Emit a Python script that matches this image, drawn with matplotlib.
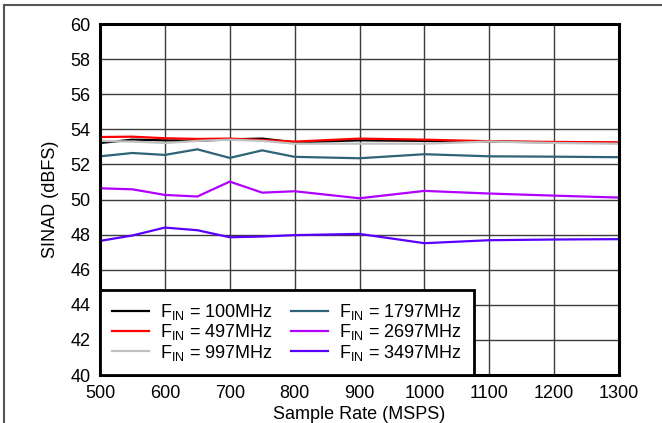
import matplotlib
matplotlib.use("Agg")
import matplotlib.pyplot as plt
from matplotlib.lines import Line2D

plt.rcParams['font.family'] = ['Liberation Sans', 'DejaVu Sans']

sample_rate = [500, 550, 600, 650, 700, 750, 800, 900, 1000, 1100, 1200, 1300]
f100 = [53.22, 53.41, 53.37, 53.34, 53.43, 53.47, 53.26, 53.37, 53.34, 53.30, 53.26, 53.22]
f497 = [53.56, 53.58, 53.49, 53.45, 53.47, 53.39, 53.30, 53.47, 53.41, 53.32, 53.28, 53.26]
f997 = [53.34, 53.30, 53.22, 53.34, 53.41, 53.34, 53.18, 53.18, 53.18, 53.30, 53.22, 53.18]
f1797 = [52.46, 52.65, 52.54, 52.86, 52.37, 52.80, 52.43, 52.35, 52.58, 52.46, 52.44, 52.41]
f2697 = [50.64, 50.58, 50.26, 50.17, 51.02, 50.39, 50.47, 50.07, 50.49, 50.34, 50.22, 50.11]
f3497 = [47.64, 47.95, 48.40, 48.25, 47.85, 47.89, 47.97, 48.04, 47.51, 47.68, 47.72, 47.74]

series = [
    ("100MHz", f100, "#000000"),
    ("497MHz", f497, "#ff0000"),
    ("997MHz", f997, "#c0c0c0"),
    ("1797MHz", f1797, "#2e6378"),
    ("2697MHz", f2697, "#b000ff"),
    ("3497MHz", f3497, "#5a00ff"),
]

xticks = [500, 600, 700, 800, 900, 1000, 1100, 1200, 1300]
yticks = list(range(40, 61, 2))

FS = 13

fig = plt.figure(figsize=(6.62, 4.23), dpi=100)
ax = fig.add_axes([100/662, 1 - 375/423, 519/662, 351/423])

order = [3, 4, 5, 0, 1, 2]
for i in order:
    name, vals, col = series[i]
    ax.plot(sample_rate, vals, color=col, lw=1.6, solid_joinstyle='miter', zorder=3)

ax.set_xlim(500, 1300)
ax.set_ylim(40, 60)
ax.set_xticks(xticks)
ax.set_yticks(yticks)
ax.tick_params(length=0, labelsize=FS, pad=7)
ax.grid(True, color='#3c3c3c', lw=1.0)
ax.set_axisbelow(True)
for s in ax.spines.values():
    s.set_linewidth(2.2)
    s.set_color('black')
    s.set_zorder(5)

ax.set_xlabel("Sample Rate (MSPS)", fontsize=FS, labelpad=3)
ax.set_ylabel("SINAD (dBFS)", fontsize=FS, labelpad=8)

handles = [Line2D([], [], color=c, lw=1.6) for _, _, c in series]
labels = [r"F$_\mathregular{IN}$ = " + n for n, _, _ in series]
leg = ax.legend(handles, labels, ncol=2, loc='lower left', bbox_to_anchor=(0, 0),
                fontsize=FS, frameon=True, fancybox=False, framealpha=1,
                edgecolor='black', borderaxespad=0, handlelength=2.05,
                handletextpad=0.6, columnspacing=1.0, labelspacing=0.02,
                borderpad=0.68)
leg.get_frame().set_linewidth(2.0)
leg.set_zorder(6)

fig.add_artist(Line2D([4/662, 4/662], [0, 1 - 5/423], color='#555555', lw=1.5))
fig.add_artist(Line2D([4/662, 1], [1 - 5/423, 1 - 5/423], color='#555555', lw=1.5))

fig.savefig("out.png", dpi=100)
